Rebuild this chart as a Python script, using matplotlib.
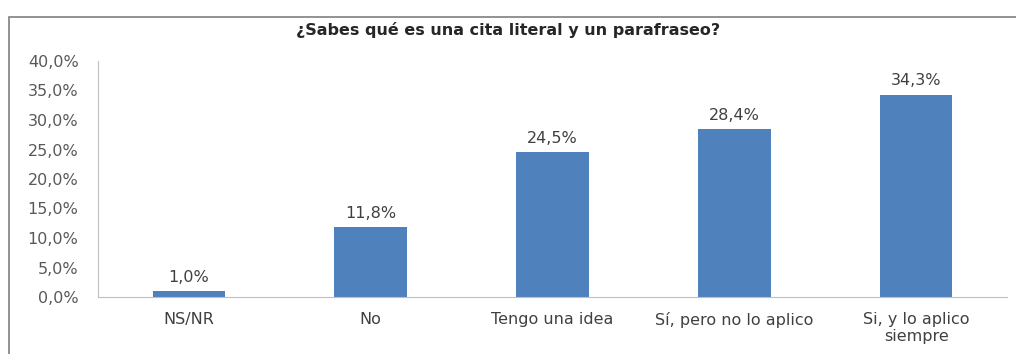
import matplotlib.pyplot as plt
from matplotlib.patches import Rectangle

categorias = ["NS/NR", "No", "Tengo una idea", "Sí, pero no lo aplico", "Si, y lo aplico\nsiempre"]
valores = [1.0, 11.8, 24.5, 28.4, 34.3]
yticks = [0, 5, 10, 15, 20, 25, 30, 35, 40]

plt.rcParams['font.family'] = ['DejaVu Sans']

W, H = 1016, 354
fig = plt.figure(figsize=(W / 100, H / 100), dpi=100)
fig.patch.set_facecolor('white')

# marco exterior del gráfico
fig.add_artist(Rectangle((9 / W, -0.1), 1.1, (354 - 17) / H + 0.1,
                         transform=fig.transFigure, fill=False,
                         edgecolor='#7f7f7f', linewidth=1.2))

ax = fig.add_axes([98 / W, (H - 297) / H, (1007 - 98) / W, (297 - 61) / H])
x = range(len(categorias))
ax.bar(x, valores, width=0.4, color='#4F81BD')
for i, v in enumerate(valores):
    ax.text(i, v + 1.1, f"{v:.1f}%".replace('.', ','), ha='center', va='bottom',
            fontsize=11.5, color='#404040')

ax.set_xlim(-0.5, len(categorias) - 0.5)
ax.set_ylim(0, 40)
ax.set_yticks(yticks)
ax.set_yticklabels([f"{t:.1f}%".replace('.', ',') for t in yticks])
ax.set_xticks(list(x))
ax.set_xticklabels(categorias, linespacing=1.15)
ax.tick_params(axis='both', length=0, labelsize=11.5, colors='#595959')
ax.tick_params(axis='x', pad=11, labelcolor='#404040')
ax.tick_params(axis='y', pad=14)
for s in ['top', 'right']:
    ax.spines[s].set_visible(False)
for s in ['left', 'bottom']:
    ax.spines[s].set_color('#bfbfbf')

fig.text(0.5, (H - 30) / H, "¿Sabes qué es una cita literal y un parafraseo?",
         ha='center', va='center', fontsize=11.5, fontweight='bold', color='#262626')

fig.savefig('out.png', dpi=100)
